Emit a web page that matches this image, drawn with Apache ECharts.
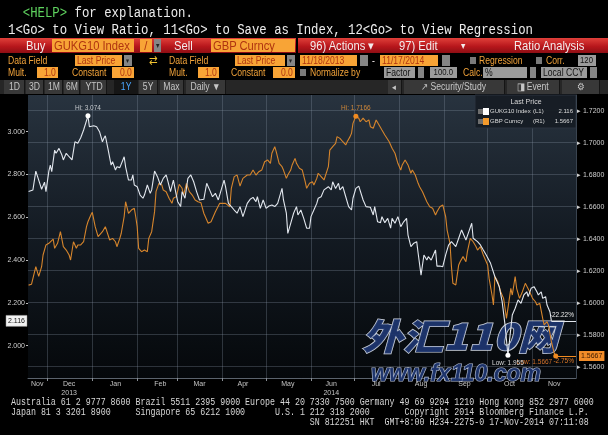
<!DOCTYPE html>
<html>
<head>
<meta charset="utf-8">
<title>GUKG10 Index / GBP Curncy</title>
<script src="https://cdn.jsdelivr.net/npm/echarts@6.0.0/dist/echarts.min.js"></script>
<style>
html,body{margin:0;padding:0;background:#000;}
body{width:608px;height:435px;overflow:hidden;position:relative;}
#chart{position:absolute;left:0;top:0;width:608px;height:435px;}
#chrome{position:absolute;left:0;top:0;width:608px;height:95px;pointer-events:none;}
.mono{position:absolute;white-space:pre;font-family:'Liberation Mono','DejaVu Sans Mono',monospace;transform-origin:0 0;pointer-events:none;}
.hdr{font-size:14px;line-height:16px;color:#ececec;transform:scaleX(0.88);left:8px;}
.foot{font-size:10px;line-height:10px;color:#d6d6d6;transform:scaleX(0.83);left:11px;}
.el{position:absolute;box-sizing:border-box;overflow:hidden;white-space:nowrap;font-family:'Liberation Sans',Arial,sans-serif;}
.el span{display:inline-block;transform:scaleX(0.86);transform-origin:0 50%;}
.el.r span{transform-origin:100% 50%;}
.el.c span{transform-origin:50% 50%;}
</style>
</head>
<body>
<div id="chart"></div>
<div id="chrome"></div>
<div class="mono hdr" style="top:5px">  <span style="color:#5fd35f">&lt;HELP&gt;</span> for explanation.</div>
<div class="mono hdr" style="top:22px">1&lt;Go&gt; to View Ratio, 11&lt;Go&gt; to Save as Index, 12&lt;Go&gt; to View Regression</div>
<div id="f1" class="mono foot" style="top:398px"></div>
<div id="f2" class="mono foot" style="top:408px"></div>
<div id="f3" class="mono foot" style="top:418px"></div>
<script>
// ---------------- DATA ----------------
// day offsets from 2013-11-18 and values
const gukgDays = [0,3,5,7,9,11,12,14,15,16,18,19,21,23,24,26,28,30,32,34,36,38,41,42,45,47,49,51,52,53,55,57,58,60,61,63,64,66,67,69,71,72,73,75,77,79,80,82,84,85,87,89,91,93,95,96,98,100,102,103,105,106,108,110,112,114,116,118,121,123,125,127,129,131,133,135,136,138,140,142,144,146,148,151,153,155,157,158,160,162,164,166,168,170,172,175,176,178,179,181,183,185,186,188,190,192,194,195,197,199,200,202,204,205,207,209,210,212,214,215,217,219,221,223,224,226,228,229,231,233,234,236,238,239,241,243,244,246,248,250,251,253,255,257,259,261,262,264,266,268,269,271,273,275,276,278,279,281,282,284,286,288,290,292,295,297,299,302,304,306,307,310,312,314,316,319,320,322,325,327,329,331,333,334,336,338,340,342,344,345,347,349,351,352,354,355,357,358,360,361];
const gukgValues = [2.7206,2.728,2.816,2.774,2.731,2.764,2.720,2.816,2.844,2.813,2.914,2.899,2.922,2.891,2.868,2.899,2.883,2.868,2.953,2.946,2.972,3.008,3.074,3.023,3.028,3.023,3.000,2.953,2.969,2.981,2.914,2.844,2.860,2.821,2.836,2.832,2.836,2.883,2.836,2.774,2.774,2.798,2.751,2.743,2.704,2.689,2.704,2.751,2.712,2.728,2.816,2.790,2.751,2.782,2.798,2.774,2.720,2.774,2.704,2.673,2.650,2.720,2.689,2.782,2.798,2.766,2.720,2.681,2.684,2.759,2.728,2.696,2.712,2.681,2.728,2.774,2.743,2.665,2.650,2.634,2.619,2.650,2.603,2.665,2.684,2.693,2.673,2.696,2.642,2.681,2.642,2.653,2.657,2.650,2.665,2.735,2.681,2.619,2.525,2.572,2.619,2.650,2.611,2.634,2.595,2.549,2.549,2.603,2.634,2.665,2.689,2.696,2.728,2.728,2.743,2.728,2.766,2.735,2.759,2.728,2.743,2.696,2.650,2.634,2.689,2.735,2.746,2.751,2.681,2.650,2.653,2.647,2.611,2.650,2.579,2.575,2.603,2.575,2.595,2.549,2.595,2.572,2.603,2.556,2.579,2.595,2.517,2.463,2.479,2.486,2.432,2.330,2.424,2.400,2.416,2.400,2.416,2.447,2.372,2.372,2.369,2.424,2.470,2.486,2.463,2.502,2.541,2.494,2.533,2.572,2.502,2.486,2.471,2.447,2.424,2.385,2.385,2.322,2.276,2.206,2.097,1.955,2.081,2.143,2.175,2.214,2.198,2.237,2.252,2.229,2.268,2.276,2.252,2.237,2.252,2.221,2.229,2.190,2.159,2.116];

const gbpDays = [0,2,3,5,6,7,9,10,12,14,15,17,18,20,22,23,24,26,28,29,31,33,34,36,38,40,41,43,44,46,48,49,51,53,54,56,58,60,61,63,64,66,67,69,70,71,73,74,75,76,78,80,82,83,85,87,88,90,92,93,95,97,99,100,102,104,106,107,109,111,113,115,117,119,121,124,126,129,132,136,139,140,142,144,146,148,151,153,155,157,159,161,163,165,167,168,170,171,173,175,176,178,179,181,182,184,185,187,189,191,192,194,196,197,199,200,202,204,205,207,208,210,212,213,215,217,219,220,222,223,224,226,228,229,231,233,235,236,238,240,242,244,246,249,251,253,255,257,258,260,262,264,265,267,269,270,272,273,275,277,279,281,282,284,286,288,289,291,292,293,295,297,298,300,302,303,305,307,309,310,312,314,317,318,320,321,322,324,326,328,329,330,332,333,334,336,337,339,341,343,344,346,348,350,351,353,355,356,358,359,361,363,364];
const gbpValues = [1.6110,1.6115,1.6111,1.6225,1.6236,1.6164,1.6225,1.6298,1.6361,1.6371,1.6361,1.6398,1.6340,1.6371,1.6444,1.6444,1.6350,1.6329,1.6298,1.6267,1.6381,1.6340,1.6361,1.6361,1.6381,1.6475,1.6506,1.6548,1.6565,1.6475,1.6413,1.6402,1.6444,1.6475,1.6465,1.6392,1.6402,1.6381,1.6350,1.6402,1.6434,1.6538,1.6631,1.6559,1.6548,1.6579,1.6590,1.6537,1.6475,1.6340,1.6319,1.6329,1.6319,1.6402,1.6444,1.6569,1.6694,1.6746,1.6736,1.6704,1.6694,1.6653,1.6621,1.6653,1.6663,1.6740,1.6715,1.6673,1.6746,1.6694,1.6673,1.6642,1.6631,1.6625,1.6559,1.6496,1.6506,1.6569,1.6621,1.6621,1.6600,1.6715,1.6788,1.6798,1.6729,1.6777,1.6798,1.6798,1.6829,1.6798,1.6819,1.6829,1.6881,1.6892,1.6871,1.6934,1.6975,1.6944,1.6871,1.6850,1.6829,1.6777,1.6798,1.6829,1.6861,1.6902,1.6871,1.6840,1.6829,1.6756,1.6715,1.6746,1.6756,1.6736,1.6777,1.6809,1.6788,1.6767,1.6767,1.6850,1.6954,1.6975,1.6996,1.7038,1.7027,1.7006,1.6986,1.7006,1.7038,1.7059,1.7121,1.7166,1.7153,1.7131,1.7153,1.7131,1.7142,1.7100,1.7090,1.7142,1.7111,1.7079,1.7048,1.7006,1.6965,1.6934,1.6871,1.6829,1.6861,1.6892,1.6861,1.6809,1.6829,1.6798,1.6746,1.6725,1.6694,1.6704,1.6631,1.6600,1.6590,1.6548,1.6569,1.6600,1.6611,1.6538,1.6454,1.6371,1.6225,1.6121,1.6111,1.6236,1.6256,1.6288,1.6256,1.6319,1.6402,1.6381,1.6350,1.6329,1.6350,1.6298,1.6236,1.6152,1.6048,1.5986,1.6164,1.6131,1.6069,1.6027,1.5965,1.5902,1.6027,1.6090,1.6048,1.6164,1.6090,1.6027,1.6069,1.6121,1.6131,1.6069,1.6027,1.6006,1.5986,1.5996,1.5902,1.5861,1.5881,1.5860,1.5756,1.5684,1.5667];

const seriesNames = ['GUKG10 Index', 'GBP Curncy'];
const seriesTags = ['(L1)', '(R1)'];
const leftTicks = [2.0, 2.2, 2.4, 2.6, 2.8, 3.0];
const rightTicks = [1.56, 1.58, 1.60, 1.62, 1.64, 1.66, 1.68, 1.70, 1.72];
const monthStarts = ['2013-12-01','2014-01-01','2014-02-01','2014-03-01','2014-04-01','2014-05-01','2014-06-01','2014-07-01','2014-08-01','2014-09-01','2014-10-01','2014-11-01'];
const xLabelDates = ['2013-11-24','2013-12-16','2014-01-17','2014-02-17','2014-03-16','2014-04-15','2014-05-16','2014-06-15','2014-07-16','2014-08-16','2014-09-15','2014-10-16','2014-11-16'];
const xLabelText = ['Nov','Dec\n2013','Jan','Feb','Mar','Apr','May','Jun\n2014','Jul','Aug','Sep','Oct','Nov'];

// ---------------- TERMINAL CHROME ----------------
const chromeItems = [
  ['red',0,296,38,15],['red',298,608,38,15],
  ['w',26,70,38,15,'Buy',13],
  ['o',52,134,39,13,'GUKG10 Index',13],
  ['o',140,152,39,13,'/',13,'c'],
  ['dd',154,161,39,13,'▾',8,'c'],
  ['w',174,210,38,15,'Sell',13],
  ['o',211,295,39,13,'GBP Curncy',13],
  ['w',310,390,38,15,'96) Actions  ▾',13],
  ['w',399,470,38,15,'97) Edit',13],
  ['w',461,472,38,15,'▾',10],
  ['w',514,608,38,15,'Ratio Analysis',13],
  ['a',8,70,55,11,'Data Field',10],
  ['o',75,122,55,11,'Last Price',10],
  ['dd',124,132,55,11,'▾',7,'c'],
  ['sw',145,160,54,12,'⇄',12,'c'],
  ['a',169,230,55,11,'Data Field',10],
  ['o',235,285,55,11,'Last Price',10],
  ['dd',287,295,55,11,'▾',7,'c'],
  ['o',300,357,55,11,'11/18/2013',10],
  ['dd',360,368,55,11,'',7],
  ['w',372,378,55,11,'-',10],
  ['o',380,438,55,11,'11/17/2014',10],
  ['dd',442,450,55,11,'',7],
  ['cb',470,476,57,7],
  ['a',479,530,55,11,'Regression',10],
  ['cb',536,542,57,7],
  ['a',546,575,55,11,'Corr.',10],
  ['g',578,596,55,11,'120',9,'c'],
  ['a',8,35,67,11,'Mult.',10],
  ['o',37,58,67,11,'1.0',10,'r'],
  ['a',72,110,67,11,'Constant',10],
  ['o',112,134,67,11,'0.0',10,'r'],
  ['a',169,196,67,11,'Mult.',10],
  ['o',198,219,67,11,'1.0',10,'r'],
  ['a',231,270,67,11,'Constant',10],
  ['o',273,295,67,11,'0.0',10,'r'],
  ['cb',300,306,69,7],
  ['a',310,380,67,11,'Normalize by',10],
  ['g',384,415,67,11,'Factor',10],
  ['dd',418,424,67,11,'',7],
  ['g',430,457,67,11,'100.0',9,'c'],
  ['a',463,480,67,11,'Calc.',10],
  ['g',483,527,67,11,'%',10],
  ['dd',530,536,67,11,'',7],
  ['g',541,587,67,11,'Local CCY',10],
  ['dd',590,597,67,11,'',7],
  ['bar',0,608,80,14],
  ['btn',4,25,80,14,'1D',10,'c'],['btn',26,44,80,14,'3D',10,'c'],['btn',45,63,80,14,'1M',10,'c'],
  ['btn',64,80,80,14,'6M',10,'c'],['btn',81,107,80,14,'YTD',10,'c'],['sel',114,138,80,14,'1Y',10,'c'],
  ['btn',139,158,80,14,'5Y',10,'c'],['btn',160,184,80,14,'Max',10,'c'],['btn',186,226,80,14,'Daily ▼',10,'c'],
  ['btn',388,402,80,14,'◂',9,'c'],['btn',404,505,80,14,'↗  Security/Study',10,'c'],
  ['btn',507,560,80,14,'◨  Event',10,'c'],['btn',562,600,80,14,'⚙',10,'c']
];
const chromeEl = document.getElementById('chrome');
chromeItems.forEach(([k,x1,x2,y,h,txt,fs,al]) => {
  const d = document.createElement('div');
  d.className = 'el' + (al === 'r' ? ' r' : al === 'c' ? ' c' : '');
  Object.assign(d.style, {left:x1+'px', top:y+'px', width:(x2-x1)+'px', height:h+'px', lineHeight:h+'px', fontSize:(fs||10)+'px'});
  if (al === 'r') { d.style.textAlign = 'right'; d.style.paddingRight = '2px'; }
  else if (al === 'c') d.style.textAlign = 'center';
  else d.style.paddingLeft = (k === 'o' || k === 'g') ? '2px' : '0';
  const st = {
    red:{background:'linear-gradient(#e0403a,#b8171c 55%,#8f0e14)'},
    o:{background:'#f8a436', color:'#b03510'},
    g:{background:'#9b9b9b', color:'#141414', overflow:'visible'},
    dd:{background:'#858585', color:'#222'},
    cb:{background:'#7a7a7a'},
    w:{color:'#f4ecec', overflow:'visible'},
    a:{color:'#f2a33a', overflow:'visible'},
    sw:{color:'#f0c230', overflow:'visible'},
    bar:{background:'#262626'},
    btn:{background:'#383838', color:'#c6c6c6', borderRight:'1px solid #151515'},
    sel:{background:'#161616', color:'#4aa6ff'}
  }[k];
  Object.assign(d.style, st);
  if (txt) { const s = document.createElement('span'); s.textContent = txt; d.appendChild(s); }
  chromeEl.appendChild(d);
});

// footer (monospace columns)
document.getElementById('f1').textContent = 'Australia 61 2 9777 8600 Brazil 5511 2395 9000 Europe 44 20 7330 7500 Germany 49 69 9204 1210 Hong Kong 852 2977 6000';
document.getElementById('f2').textContent = 'Japan 81 3 3201 8900'.padEnd(25) + 'Singapore 65 6212 1000'.padEnd(28) + 'U.S. 1 212 318 2000'.padEnd(26) + 'Copyright 2014 Bloomberg Finance L.P.';
document.getElementById('f3').textContent = ''.padEnd(60) + 'SN 812251 HKT  GMT+8:00 H234-2275-0 17-Nov-2014 07:11:08';

// ---------------- CHART ----------------
const DAY = 864e5;
const start = new Date(2013, 10, 18).getTime();
const dateTs = s => { const [y,m,d] = s.split('-').map(Number); return new Date(y, m-1, d).getTime(); };
const xMin = start - 0.4 * DAY;
const xMax = dateTs('2014-12-01');
const gukgData = gukgDays.map((d,i) => [start + d*DAY, gukgValues[i]]);
const gbpData = gbpDays.map((d,i) => [start + d*DAY, gbpValues[i]]);
const gLast = gukgData[gukgData.length-1], bLast = gbpData[gbpData.length-1];
const pct = (a,b) => ((b/a - 1)*100).toFixed(2) + '%';
const gPct = pct(gukgValues[0], gLast[1]);
const bPct = pct(gbpValues[0], bLast[1]);
const xLabelTs = xLabelDates.map(dateTs);
const FONT = 'Liberation Sans';
const WHITE = '#e2e7ee', ORANGE = '#d6852c';
const gridCol = 'rgba(135,150,165,0.30)';

const chart = echarts.init(document.getElementById('chart'));
chart.setOption({
  backgroundColor: '#000',
  animation: false,
  grid: {
    left: 28, right: 32, top: 95, bottom: 57, show: true, borderWidth: 0, outerBoundsMode: 'none',
    backgroundColor: new echarts.graphic.LinearGradient(0, 0, 0, 1, [
      {offset: 0, color: '#28333f'}, {offset: 0.5, color: '#131a22'}, {offset: 1, color: '#05080b'}])
  },
  xAxis: {
    type: 'value', min: xMin, max: xMax,
    axisLine: {show: true, lineStyle: {color: '#5b636d', width: 1}},
    axisTick: {show: true, customValues: monthStarts.map(dateTs), length: 3, lineStyle: {color: '#8a8f96'}},
    splitLine: {show: true, lineStyle: {color: gridCol, width: 1}},
    axisLabel: {
      customValues: xLabelTs, color: '#c4c4c4', fontSize: 7, lineHeight: 9, margin: 2, fontFamily: FONT,
      formatter: v => { const i = xLabelTs.findIndex(t => Math.abs(t - v) < DAY/2); return i >= 0 ? xLabelText[i] : ''; }
    }
  },
  yAxis: [
    {
      type: 'value', position: 'left', min: 1.849, max: 3.1715,
      axisLine: {show: false},
      axisTick: {show: true, customValues: leftTicks, length: 2, lineStyle: {color: '#bbbbbb'}},
      axisLabel: {customValues: leftTicks, formatter: v => v.toFixed(3), color: '#cfcfcf', fontSize: 7, margin: 3, fontFamily: FONT},
      splitLine: {show: false}
    },
    {
      type: 'value', position: 'right', min: 1.55294, max: 1.72981,
      axisLine: {show: true, lineStyle: {color: '#3a4450'}},
      axisTick: {show: false, customValues: rightTicks},
      axisLabel: {customValues: rightTicks, formatter: v => '▸ ' + v.toFixed(4), color: '#cfcfcf', fontSize: 7, margin: 1, fontFamily: FONT},
      splitLine: {show: true, lineStyle: {color: gridCol, width: 1}}
    }
  ],
  series: [
    {
      name: seriesNames[1], type: 'line', yAxisIndex: 1, data: gbpData, symbol: 'none', z: 3,
      lineStyle: {color: ORANGE, width: 1.1}, itemStyle: {color: ORANGE},
      markPoint: {
        symbol: 'circle', symbolSize: 5, animation: false,
        data: [
          {type: 'max', valueIndex: 1, itemStyle: {color: '#f08a20'},
           label: {show: true, position: 'top', distance: 2, color: '#d0883a', fontSize: 6.5, fontFamily: FONT, formatter: p => 'Hi: ' + p.value.toFixed(4)}},
          {type: 'min', valueIndex: 1, itemStyle: {color: '#f08a20'},
           label: {show: true, position: [-1, 5], align: 'right', verticalAlign: 'top', color: '#d0702a', fontSize: 6.5, fontFamily: FONT, formatter: p => 'Low: ' + p.value.toFixed(4)}}
        ]
      },
      markLine: {
        symbol: 'none', silent: true, animation: false,
        lineStyle: {color: '#f08a20', width: 1, type: 'solid'},
        data: [
          [{coord: [bLast[0], bLast[1]], label: {show: true, position: 'insideEndBottom', distance: 2, formatter: bPct, color: '#e07a28', fontSize: 6.5, fontFamily: FONT}},
           {coord: [xMax, bLast[1]]}],
          [{coord: [bLast[0], bLast[1]], label: {show: true, position: 'end', distance: 3, formatter: bLast[1].toFixed(4),
             backgroundColor: '#f28c28', color: '#3a1800', fontSize: 7, fontFamily: FONT, padding: [2, 2, 1, 2]}},
           {coord: [xMax, bLast[1]]}]
        ]
      }
    },
    {
      name: seriesNames[0], type: 'line', yAxisIndex: 0, data: gukgData, symbol: 'none', z: 4,
      lineStyle: {color: WHITE, width: 1.1}, itemStyle: {color: WHITE},
      markPoint: {
        symbol: 'circle', symbolSize: 5, animation: false,
        data: [
          {type: 'max', valueIndex: 1, itemStyle: {color: '#ffffff'},
           label: {show: true, position: 'top', distance: 2, color: '#c4c8cc', fontSize: 6.5, fontFamily: FONT, formatter: p => 'Hi: ' + p.value.toFixed(3)}},
          {type: 'min', valueIndex: 1, itemStyle: {color: '#ffffff'},
           label: {show: true, position: 'bottom', distance: 2, color: '#d8d8d8', fontSize: 6.5, fontFamily: FONT, formatter: p => 'Low: ' + p.value.toFixed(3)}}
        ]
      },
      markLine: {
        symbol: 'none', silent: true, animation: false,
        lineStyle: {color: WHITE, width: 1, type: 'solid'},
        data: [
          [{coord: [gLast[0], gLast[1]], label: {show: true, position: 'insideEndTop', distance: 2, formatter: gPct, color: '#e6e6e6', fontSize: 6.5, fontFamily: FONT}},
           {coord: [xMax, gLast[1]]}]
        ]
      }
    }
  ]
});

// overlays placed through the chart's own scales
const yLastPix = chart.convertToPixel({yAxisIndex: 0}, gLast[1]);
const LF = '6px "Liberation Sans"';
chart.setOption({
  graphic: [
    {type: 'text', x: 362, y: 318, scaleX: 1.13, z: 1, silent: true,
     style: {text: '外汇110网', font: 'italic 900 36px "Noto Sans CJK SC"', fill: 'rgba(30,54,112,0.93)', stroke: 'rgba(222,228,240,0.9)', lineWidth: 1.4}},
    {type: 'text', x: 371, y: 363, z: 1, silent: true,
     style: {text: 'www.fx110.com', font: 'italic bold 23px "Liberation Sans"', fill: 'rgba(30,54,112,0.93)', stroke: 'rgba(200,210,232,0.9)', lineWidth: 1.2}},
    {type: 'group', x: 475, y: 95, z: 20, silent: true, children: [
      {type: 'rect', shape: {x: 0, y: 0, width: 101, height: 33}, style: {fill: 'rgba(22,28,36,0.95)', stroke: '#2a333e', lineWidth: 1}},
      {type: 'text', x: 51, y: 4, style: {text: 'Last Price', fill: '#d8d8d8', font: '7px "Liberation Sans"', align: 'center'}},
      {type: 'rect', shape: {x: 3, y: 14, width: 5, height: 5}, style: {fill: '#6e6e6e'}},
      {type: 'rect', shape: {x: 8, y: 13, width: 6, height: 7}, style: {fill: '#ffffff'}},
      {type: 'text', x: 15, y: 16.5, style: {text: seriesNames[0], fill: '#dcdcdc', font: LF, verticalAlign: 'middle'}},
      {type: 'text', x: 58, y: 16.5, style: {text: seriesTags[0], fill: '#dcdcdc', font: LF, verticalAlign: 'middle'}},
      {type: 'text', x: 98, y: 16.5, style: {text: gLast[1].toFixed(3), fill: '#dcdcdc', font: LF, align: 'right', verticalAlign: 'middle'}},
      {type: 'rect', shape: {x: 3, y: 24, width: 5, height: 5}, style: {fill: '#6e6e6e'}},
      {type: 'rect', shape: {x: 8, y: 23, width: 6, height: 7}, style: {fill: '#f39a2c'}},
      {type: 'text', x: 15, y: 26.5, style: {text: seriesNames[1], fill: '#dcdcdc', font: LF, verticalAlign: 'middle'}},
      {type: 'text', x: 58, y: 26.5, style: {text: seriesTags[1], fill: '#dcdcdc', font: LF, verticalAlign: 'middle'}},
      {type: 'text', x: 98, y: 26.5, style: {text: bLast[1].toFixed(4), fill: '#dcdcdc', font: LF, align: 'right', verticalAlign: 'middle'}}
    ]},
    {type: 'group', x: 6, y: yLastPix, z: 20, silent: true, children: [
      {type: 'rect', shape: {x: 0, y: -5.5, width: 21, height: 11}, style: {fill: '#f2f2f2', stroke: '#9a9a9a', lineWidth: 0.5}},
      {type: 'text', x: 10.5, y: 0, style: {text: gLast[1].toFixed(3), fill: '#111', font: '7px "Liberation Sans"', align: 'center', verticalAlign: 'middle'}}
    ]}
  ]
});
</script>
</body>
</html>
